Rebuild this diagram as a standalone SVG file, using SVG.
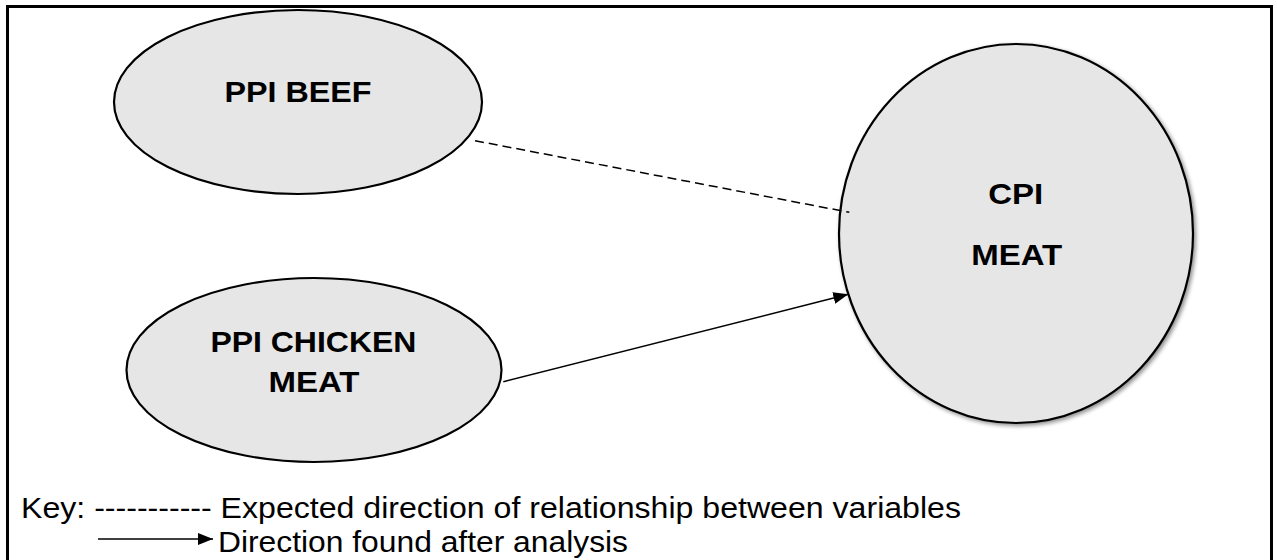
<svg xmlns="http://www.w3.org/2000/svg" width="1277" height="560" viewBox="0 0 1277 560">
  <style>
    .node { fill: #e6e6e6; stroke: #000; stroke-width: 2.2; }
    .label { font-family: "Liberation Sans", Arial, sans-serif; font-weight: bold; font-size: 30px; fill: #000; text-anchor: middle; }
    .key { font-family: "Liberation Sans", Arial, sans-serif; font-size: 29px; fill: #000; }
    .conn { stroke: #000; stroke-width: 1.5; fill: none; }
  </style>
  <defs>
    <marker id="arrow" markerUnits="userSpaceOnUse" markerWidth="15" markerHeight="12" refX="15" refY="6" orient="auto">
      <path d="M0,0 L15,6 L0,12 z" fill="#000"/>
    </marker>
    <filter id="shadow" x="-10%" y="-10%" width="125%" height="125%">
      <feGaussianBlur in="SourceAlpha" stdDeviation="2"/>
      <feOffset dx="2" dy="2" result="b"/>
      <feComponentTransfer><feFuncA type="linear" slope="0.45"/></feComponentTransfer>
      <feMerge><feMergeNode/><feMergeNode in="SourceGraphic"/></feMerge>
    </filter>
  </defs>
  <rect x="7.5" y="6.5" width="1264" height="600" fill="#fff" stroke="#000" stroke-width="3"/>
  <g id="ppi-beef">
    <ellipse class="node" cx="298" cy="102" rx="184" ry="92"/>
    <text class="label" x="298" y="102" textLength="147" lengthAdjust="spacingAndGlyphs">PPI BEEF</text>
  </g>
  <g id="ppi-chicken-meat">
    <ellipse class="node" cx="314" cy="370" rx="187.5" ry="92"/>
    <text class="label" x="313.4" y="351.7" textLength="206" lengthAdjust="spacingAndGlyphs">PPI CHICKEN</text>
    <text class="label" x="314" y="391.7" textLength="91" lengthAdjust="spacingAndGlyphs">MEAT</text>
  </g>
  <g id="cpi-meat">
    <ellipse class="node" cx="1016" cy="233.5" rx="177" ry="189.5" filter="url(#shadow)" stroke-width="1.8"/>
    <text class="label" x="1015.8" y="204" textLength="55" lengthAdjust="spacingAndGlyphs">CPI</text>
    <text class="label" x="1016.7" y="265" textLength="91" lengthAdjust="spacingAndGlyphs">MEAT</text>
  </g>
  <g id="connectors">
    <line class="conn" x1="475" y1="140.7" x2="849.3" y2="212.3" stroke-dasharray="9,5"/>
    <line class="conn" x1="503.3" y1="381.7" x2="848.3" y2="294.3" marker-end="url(#arrow)"/>
  </g>
  <g id="key">
    <text class="key" x="21" y="517.5" textLength="940" lengthAdjust="spacingAndGlyphs">Key: ----------- Expected direction of relationship between variables</text>
    <line class="conn" x1="98" y1="539" x2="213" y2="539" marker-end="url(#arrow)"/>
    <text class="key" x="218" y="552.3" textLength="410" lengthAdjust="spacingAndGlyphs">Direction found after analysis</text>
  </g>
</svg>
